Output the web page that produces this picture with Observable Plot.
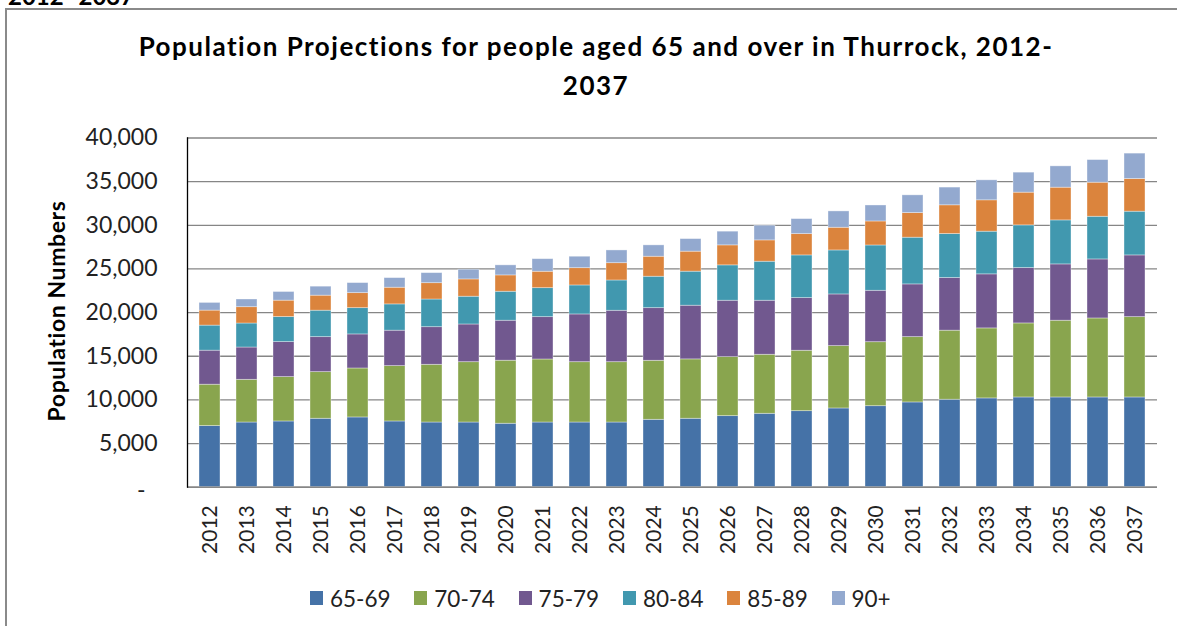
<!DOCTYPE html>
<html>
<head>
<meta charset="utf-8">
<script src="https://cdn.jsdelivr.net/npm/d3@7"></script>
<script src="https://cdn.jsdelivr.net/npm/@observablehq/plot@0.6"></script>
<style>
  html, body { margin: 0; padding: 0; width: 1177px; height: 626px; overflow: hidden; background: #fff; font-family: Lato, "Open Sans", sans-serif; }
  #frame { position: absolute; left: 5px; top: 8px; width: 1400px; height: 800px; border: 2px solid #8a8a8a; box-sizing: border-box; }
  #cut { position: absolute; left: 8px; top: -19px; font: bold 24px Lato, sans-serif; color: #000; white-space: nowrap; }
  #title { position: absolute; left: 0; top: 27px; width: 1192px; text-align: center; font: bold 26px Lato, sans-serif; letter-spacing: 1.5px; line-height: 39px; color: #000; }
  #ytitle { position: absolute; left: 56px; top: 311px; transform: translate(-50%, -50%) rotate(-90deg); font: bold 23px Lato, sans-serif; letter-spacing: 0.6px; white-space: nowrap; color: #000; }
  #chart { position: absolute; left: 0; top: 110px; }
  #legend { position: absolute; left: 0; top: 585px; width: 1177px; height: 30px; }
  .item { position: absolute; top: 0; display: flex; align-items: center; height: 26px; font: 22.5px Lato, sans-serif; color: #222; white-space: nowrap; }
  .sw { width: 13px; height: 14px; margin-right: 7px; }
</style>
</head>
<body>
<div id="frame"></div>
<div id="cut">2012- 2037</div>
<div id="title">Population Projections for people aged 65 and over in Thurrock, 2012-<br>2037</div>
<div id="ytitle">Population Numbers</div>
<div id="chart"></div>
<div id="legend"></div>
<script>
const years = [2012,2013,2014,2015,2016,2017,2018,2019,2020,2021,2022,2023,2024,2025,2026,2027,2028,2029,2030,2031,2032,2033,2034,2035,2036,2037];
const groups = ["65-69","70-74","75-79","80-84","85-89","90+"];
const colors = ["#4572a7","#89a54e","#71588f","#4198af","#db843d","#93a9cf"];
const age6569 = [7000,7410,7530,7840,7990,7530,7410,7410,7270,7410,7410,7410,7720,7840,8140,8410,8710,9020,9280,9710,10020,10170,10280,10280,10280,10280];
const age7074 = [4740,4890,5080,5340,5610,6340,6610,6910,7220,7220,6910,6910,6760,6800,6760,6760,6920,7140,7330,7480,7910,8020,8480,8790,9050,9200];
const age7579 = [3900,3700,4010,4010,3900,4060,4310,4320,4580,4850,5470,5890,6030,6150,6460,6190,6030,5920,5890,6040,6030,6190,6340,6450,6760,7070];
const age8084 = [2870,2750,2870,3030,3010,3010,3170,3180,3320,3320,3320,3470,3600,3900,4050,4470,4890,5040,5190,5350,5040,4890,4890,5040,4890,5010];
const age8589 = [1720,1870,1880,1720,1720,1910,1870,1980,1870,1880,1980,1980,2290,2290,2290,2440,2440,2600,2750,2820,3290,3590,3750,3750,3900,3740];
const age90 = [880,880,990,1030,1150,1100,1150,1110,1150,1440,1310,1460,1300,1440,1570,1680,1720,1870,1830,2030,2030,2290,2290,2440,2590,2910];
const yTicks = [0,5000,10000,15000,20000,25000,30000,35000,40000];

const seriesList = [age6569, age7074, age7579, age8084, age8589, age90];
const data = years.flatMap((yr, i) => groups.map((g, j) => ({year: String(yr), group: g, value: seriesList[j][i]})));

const fmt = d3.format(",");
const chart = Plot.plot({
  width: 1177,
  height: 470,
  marginLeft: 187,
  marginRight: 20,
  marginTop: 27.5,
  marginBottom: 93.3,
  style: {fontFamily: "Lato, sans-serif", color: "#222", background: "transparent"},
  x: {type: "band", domain: years.map(String), paddingInner: 0.42, paddingOuter: 0.21},
  y: {domain: [0, 40000]},
  color: {domain: groups, range: colors},
  marks: [
    Plot.gridY(yTicks, {stroke: "#868686", strokeOpacity: 1, strokeWidth: 1.3}),
    Plot.barY(data, {x: "year", y: "value", fill: "group", stroke: "#ffffff", strokeOpacity: 0.45, strokeWidth: 0.8}),
    Plot.ruleY([0], {stroke: "#868686", strokeWidth: 1.5}),
    Plot.frame({anchor: "left", stroke: "#000", strokeWidth: 1.3}),
    Plot.axisY(yTicks.filter(d => d !== 0), {tickSize: 0, tickPadding: 30, tickFormat: fmt, label: null, fontSize: 23}),
    Plot.axisY([0], {tickSize: 0, tickPadding: 42, tickFormat: () => "-", label: null, fontSize: 23, dy: 3}),
    Plot.axisX({tickSize: 0, tickPadding: 18, tickRotate: -90, label: null, fontSize: 21})
  ]
});
document.getElementById("chart").appendChild(chart);

const legend = document.getElementById("legend");
groups.forEach((g, i) => {
  const item = document.createElement("div");
  item.className = "item";
  item.style.left = (310 + i * 104.3) + "px";
  const sw = document.createElement("span");
  sw.className = "sw";
  sw.style.background = colors[i];
  const t = document.createElement("span");
  t.textContent = g;
  item.appendChild(sw);
  item.appendChild(t);
  legend.appendChild(item);
});
</script>
</body>
</html>
